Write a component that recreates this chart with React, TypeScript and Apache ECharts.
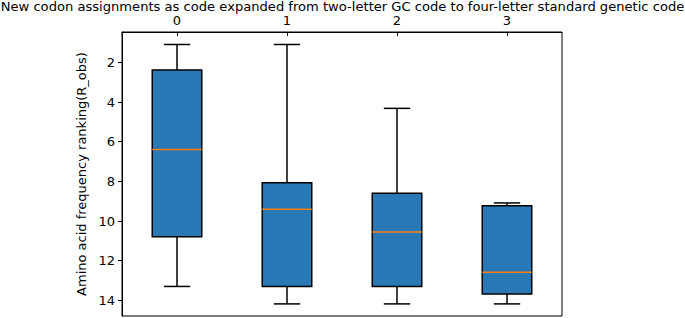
import React, { useEffect, useRef } from "react";
import * as echarts from "echarts";

const categories = ["0", "1", "2", "3"];
const whiskerTop = [1.1, 1.1, 4.32, 9.09];
const q1Values = [2.38, 8.07, 8.6, 9.23];
const medians = [6.4, 9.41, 10.55, 12.59];
const q3Values = [10.8, 13.3, 13.3, 13.68];
const whiskerBottom = [13.3, 14.18, 14.18, 14.18];
const yTicks = [2, 4, 6, 8, 10, 12, 14];
const titleText =
  "New codon assignments as code expanded from two-letter GC code to four-letter standard genetic code";
const yName = "Amino acid frequency ranking(R_obs)";

const FONT = "DejaVu Sans";

export default function App() {
  const ref = useRef<HTMLDivElement>(null);
  useEffect(() => {
    if (!ref.current) return;
    const chart = echarts.init(ref.current, null, { renderer: "svg" });
    const data = categories.map((_, i) => [
      i,
      whiskerTop[i],
      q1Values[i],
      medians[i],
      q3Values[i],
      whiskerBottom[i],
    ]);
    chart.setOption({
      animation: false,
      title: {
        text: titleText,
        left: "center",
        top: 0,
        padding: 0,
        textStyle: {
          fontFamily: FONT,
          fontSize: 13.1,
          fontWeight: "normal",
          color: "#000",
          lineHeight: 12,
        },
      },
      grid: {
        left: 122,
        right: 123,
        top: 32,
        bottom: 2,
        show: true,
        borderColor: "#000",
        borderWidth: 1,
        backgroundColor: "transparent",
      },
      xAxis: {
        type: "category",
        data: categories,
        position: "top",
        axisLine: { show: true, lineStyle: { color: "#000", width: 1 } },
        axisTick: {
          show: true,
          inside: true,
          alignWithLabel: true,
          length: 4,
          lineStyle: { color: "#000", width: 1 },
        },
        axisLabel: {
          fontFamily: FONT,
          fontSize: 13,
          color: "#000",
          margin: 5,
        },
        splitLine: { show: false },
      },
      yAxis: {
        type: "value",
        inverse: true,
        min: 0.47,
        max: 14.79,
        name: yName,
        nameLocation: "middle",
        nameGap: 24,
        nameTextStyle: { fontFamily: FONT, fontSize: 13, color: "#000" },
        axisLine: { show: true, lineStyle: { color: "#000", width: 1 } },
        axisTick: {
          show: true,
          length: 4,
          customValues: yTicks,
          lineStyle: { color: "#000", width: 1 },
        },
        axisLabel: {
          fontFamily: FONT,
          fontSize: 13,
          color: "#000",
          margin: 7,
          customValues: yTicks,
        },
        splitLine: { show: false },
      },
      series: [
        {
          type: "custom",
          data,
          encode: { x: 0, y: [1, 2, 3, 4, 5] },
          renderItem: (params: any, api: any) => {
            const x = api.value(0);
            const pTop = api.coord([x, api.value(1)]);
            const pQ1 = api.coord([x, api.value(2)]);
            const pMed = api.coord([x, api.value(3)]);
            const pQ3 = api.coord([x, api.value(4)]);
            const pBot = api.coord([x, api.value(5)]);
            const band = api.size([1, 0])[0];
            const bw = band * 0.45;
            const cw = band * 0.24;
            const cx = pQ1[0];
            const lineStyle = { stroke: "#000", lineWidth: 1.5 };
            return {
              type: "group",
              children: [
                {
                  type: "line",
                  shape: { x1: cx, y1: pTop[1], x2: cx, y2: pQ1[1] },
                  style: lineStyle,
                },
                {
                  type: "line",
                  shape: { x1: cx, y1: pQ3[1], x2: cx, y2: pBot[1] },
                  style: lineStyle,
                },
                {
                  type: "line",
                  shape: { x1: cx - cw / 2, y1: pTop[1], x2: cx + cw / 2, y2: pTop[1] },
                  style: lineStyle,
                },
                {
                  type: "line",
                  shape: { x1: cx - cw / 2, y1: pBot[1], x2: cx + cw / 2, y2: pBot[1] },
                  style: lineStyle,
                },
                {
                  type: "rect",
                  shape: { x: cx - bw / 2, y: pQ1[1], width: bw, height: pQ3[1] - pQ1[1] },
                  style: { fill: "#2879b5", stroke: "#000", lineWidth: 1.5 },
                },
                {
                  type: "line",
                  shape: { x1: cx - bw / 2, y1: pMed[1], x2: cx + bw / 2, y2: pMed[1] },
                  style: { stroke: "#ff7f0e", lineWidth: 1.5 },
                },
              ],
            };
          },
        },
      ],
    });
    return () => chart.dispose();
  }, []);
  return (
    <div
      ref={ref}
      style={{ position: "absolute", left: 0, top: 0, width: 685, height: 318 }}
    />
  );
}
